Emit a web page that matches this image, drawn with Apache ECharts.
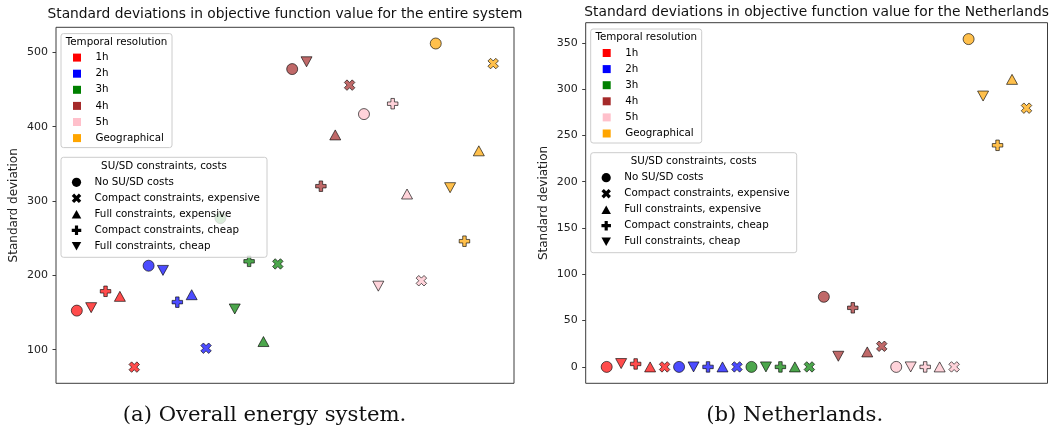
<!DOCTYPE html>
<html><head><meta charset="utf-8">
<script src="https://cdn.jsdelivr.net/npm/echarts@6/dist/echarts.min.js"></script>
<style>html,body{margin:0;padding:0;background:#fff}#c{width:1052px;height:434px}</style>
</head><body><div id="c"></div>
<script>
// ---------------- DATA ----------------
const resolutions = ['1h', '2h', '3h', '4h', '5h', 'Geographical'];
const resolutionColors = ['#ff0000', '#0000ff', '#008000', '#a52a2a', '#ffc0cb', '#ffa500'];
// legend order of constraint types
const constraintTypes = ['No SU/SD costs', 'Compact constraints, expensive', 'Full constraints, expensive', 'Compact constraints, cheap', 'Full constraints, cheap'];
// plotting order within each resolution group (x positions)
const plotOrder = ['No SU/SD costs', 'Full constraints, cheap', 'Compact constraints, cheap', 'Full constraints, expensive', 'Compact constraints, expensive'];

// (a) Overall energy system, values in plotOrder
const overall1h  = [152.6, 156.6, 178.6, 171.8, 76.6];
const overall2h  = [213.0, 206.7, 164.0, 174.0, 102.0];
const overall3h  = [277.0, 154.8, 218.9, 111.0, 215.4];
const overall4h  = [477.6, 487.4, 320.0, 389.0, 456.0];
const overall5h  = [417.0, 185.5, 431.0, 309.5, 192.8];
const overallGeo = [512.0, 318.0, 246.0, 367.6, 485.0];

// (b) Netherlands, values in plotOrder
const nl1h  = [0, 3.6, 3.2, 0, 0];
const nl2h  = [0, 0, 0, 0, 0];
const nl3h  = [0, 0, 0, 0, 0];
const nl4h  = [75.7, 11.5, 63.8, 16.2, 22.3];
const nl5h  = [0, 0, 0, 0, 0];
const nlGeo = [354.0, 292.5, 239.3, 310.5, 279.4];

const overallTicks = [100, 200, 300, 400, 500];
const nlTicks = [0, 50, 100, 150, 200, 250, 300, 350];

const titleLeft = 'Standard deviations in objective function value for the entire system';
const titleRight = 'Standard deviations in objective function value for the Netherlands';
const yName = 'Standard deviation';
const captionLeft = '(a) Overall energy system.';
const captionRight = '(b) Netherlands.';
const legendTitle1 = 'Temporal resolution';
const legendTitle2 = 'SU/SD constraints, costs';

// ---------------- STYLE ----------------
const FONT = 'DejaVu Sans';
const PLUS_PTS = [[-1,-3],[1,-3],[1,-1],[3,-1],[3,1],[1,1],[1,3],[-1,3],[-1,1],[-3,1],[-3,-1],[-1,-1]].map(p => [p[0] / 3, p[1] / 3]);
const X_PTS = [[-1.5,-3],[0,-1.5],[1.5,-3],[3,-1.5],[1.5,0],[3,1.5],[1.5,3],[0,1.5],[-1.5,3],[-3,1.5],[-1.5,0],[-3,-1.5]].map(p => [p[0] / 3, p[1] / 3]);
const UP_PTS = [[0,-1],[1,1],[-1,1]];
const DOWN_PTS = [[-1,-1],[1,-1],[0,1]];
const toPath = pts => 'path://M' + pts.map(p => p[0].toFixed(3) + ',' + p[1].toFixed(3)).join('L') + 'Z';
const shapeStyle = {
  'No SU/SD costs': { symbol: 'circle', size: 11, pts: null },
  'Compact constraints, expensive': { symbol: toPath(X_PTS), size: 10.5, pts: X_PTS },
  'Full constraints, expensive': { symbol: toPath(UP_PTS), size: [11, 10], pts: UP_PTS },
  'Compact constraints, cheap': { symbol: toPath(PLUS_PTS), size: 10.5, pts: PLUS_PTS },
  'Full constraints, cheap': { symbol: toPath(DOWN_PTS), size: [11, 10], pts: DOWN_PTS }
};

const grids = [
  { left: 56, top: 27.3, width: 458, height: 356, ymin: 54.8, ymax: 533.8, ticks: overallTicks,
    data: [overall1h, overall2h, overall3h, overall4h, overall5h, overallGeo], title: titleLeft, caption: captionLeft, capX: 264.5, titleTop: 7.5 },
  { left: 585.7, top: 22.7, width: 461.8, height: 360.6, ymin: -17.7, ymax: 371.7, ticks: nlTicks,
    data: [nl1h, nl2h, nl3h, nl4h, nl5h, nlGeo], title: titleRight, caption: captionRight, capX: 794.7, titleTop: 5 }
];

const option = {
  animation: false,
  backgroundColor: '#ffffff',
  textStyle: { fontFamily: FONT },
  title: [], grid: [], xAxis: [], yAxis: [], series: [], graphic: []
};

grids.forEach((g, gi) => {
  option.grid.push({ left: g.left, top: g.top, width: g.width, height: g.height, show: true,
    borderColor: '#3c3c3c', borderWidth: 1, backgroundColor: 'transparent' });
  option.xAxis.push({ type: 'value', gridIndex: gi, min: -1.45, max: 30.45,
    axisLine: { show: false, onZero: false }, axisTick: { show: false }, axisLabel: { show: false }, splitLine: { show: false } });
  option.yAxis.push({ type: 'value', gridIndex: gi, min: g.ymin, max: g.ymax, position: 'left',
    axisLine: { show: false, onZero: false },
    axisTick: { show: true, length: 3.5, customValues: g.ticks, lineStyle: { color: '#3c3c3c', width: 1 } },
    axisLabel: { show: true, customValues: g.ticks, fontSize: 11, color: '#222', margin: 8, fontFamily: FONT },
    splitLine: { show: false },
    name: yName, nameLocation: 'middle', nameGap: 36, nameRotate: 90,
    nameTextStyle: { fontSize: 12, color: '#222', fontFamily: FONT } });
  option.title.push({ text: g.title, left: g.left + g.width / 2, textAlign: 'center', top: g.titleTop,
    padding: 0, textStyle: { fontSize: 13.8, fontWeight: 'normal', color: '#111', fontFamily: FONT } });

  resolutions.forEach((r, ri) => {
    option.series.push({
      type: 'scatter', name: r, xAxisIndex: gi, yAxisIndex: gi,
      itemStyle: { color: resolutionColors[ri], opacity: 0.7, borderColor: '#000', borderWidth: 0.9 },
      emphasis: { disabled: true }, silent: true,
      data: g.data[ri].map((v, k) => ({
        value: [ri * plotOrder.length + k, v],
        symbol: shapeStyle[plotOrder[k]].symbol,
        symbolSize: shapeStyle[plotOrder[k]].size
      }))
    });
  });

  // ---- legends (drawn as graphics inside the axes) ----
  const bx = g.left + 5, by1 = g.top + 6.3, by2 = g.top + 130;
  const txt = (x, y, s, align) => ({ type: 'text', z: 101, x: x, y: y,
    style: { text: s, fill: '#000', font: '10.3px "' + FONT + '"', align: align || 'left', verticalAlign: 'middle' } });
  // box 1
  option.graphic.push({ type: 'rect', z: 100, shape: { x: bx, y: by1, width: 111, height: 114, r: 2.5 },
    style: { fill: 'rgba(255,255,255,0.8)', stroke: '#cccccc', lineWidth: 1 } });
  option.graphic.push(txt(bx + 55.5, by1 + 8.7, legendTitle1, 'center'));
  resolutions.forEach((r, ri) => {
    const cy = by1 + 24 + ri * 16.1;
    option.graphic.push({ type: 'rect', z: 101, shape: { x: bx + 12, y: cy - 4, width: 8, height: 8 },
      style: { fill: resolutionColors[ri] } });
    option.graphic.push(txt(bx + 34.5, cy, r));
  });
  // box 2
  option.graphic.push({ type: 'rect', z: 100, shape: { x: bx, y: by2, width: 206, height: 100, r: 2.5 },
    style: { fill: 'rgba(255,255,255,0.8)', stroke: '#cccccc', lineWidth: 1 } });
  option.graphic.push(txt(bx + 103, by2 + 9, legendTitle2, 'center'));
  constraintTypes.forEach((c, ci) => {
    const cy = by2 + 25 + ci * 16, cx = bx + 15.5;
    const st = shapeStyle[c];
    if (st.pts === null) {
      option.graphic.push({ type: 'circle', z: 101, shape: { cx: cx, cy: cy, r: 4.6 }, style: { fill: '#000' } });
    } else {
      const w = 9.5, h = (st.pts === UP_PTS || st.pts === DOWN_PTS) ? 8.5 : 9.5;
      option.graphic.push({ type: 'polygon', z: 101,
        shape: { points: st.pts.map(p => [cx + p[0] * w / 2, cy + p[1] * h / 2]) },
        style: { fill: '#000' } });
    }
    option.graphic.push(txt(bx + 33.5, cy, c));
  });

  // caption
  option.graphic.push({ type: 'text', z: 101, x: g.capX, y: 415,
    style: { text: g.caption, fill: '#111', font: '21.2px "DejaVu Serif"', align: 'center', verticalAlign: 'middle' } });
});

const chart = echarts.init(document.getElementById('c'), null, { renderer: 'canvas', width: 1052, height: 434 });
chart.setOption(option);
</script>
</body></html>
